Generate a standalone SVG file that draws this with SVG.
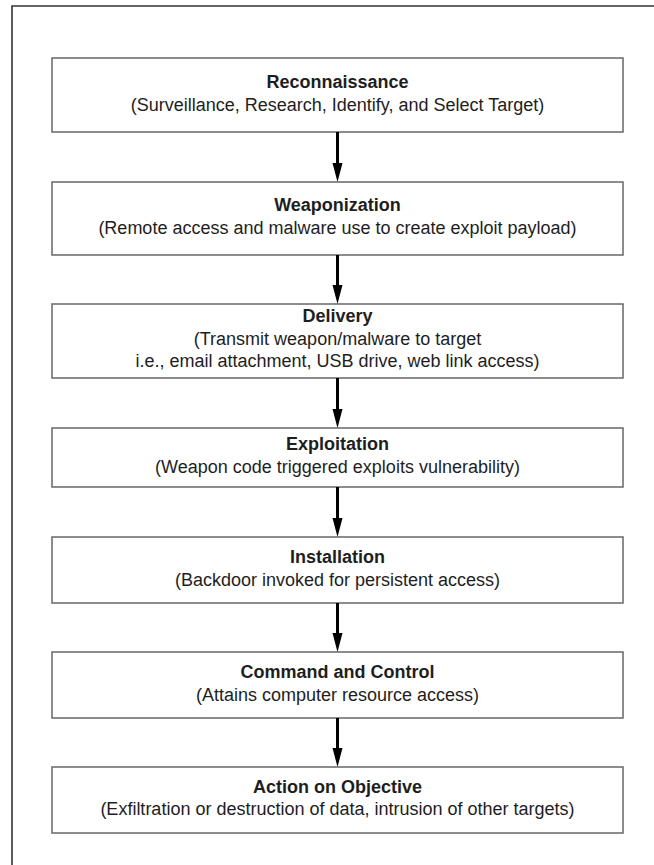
<svg xmlns="http://www.w3.org/2000/svg" width="654" height="865" viewBox="0 0 654 865">
  <defs>
    <style>
      .box { fill: #ffffff; stroke: #707070; stroke-width: 1.6; }
      .title { font-family: "Liberation Sans", Arial, sans-serif; font-size: 18px; font-weight: bold; fill: #1e1e1e; text-anchor: middle; }
      .sub { font-family: "Liberation Sans", Arial, sans-serif; font-size: 18px; fill: #1e1e1e; text-anchor: middle; }
      .link { stroke: #000000; stroke-width: 3; fill: none; }
      .head { fill: #000000; }
    </style>
  </defs>
  <rect width="654" height="865" fill="#ffffff"/>
  <!-- outer frame (top and left edges fall inside the canvas) -->
  <path d="M12,865 V6 H654" fill="none" stroke="#333333" stroke-width="1.6"/>

  <g id="reconnaissance">
    <rect class="box" x="52" y="58" width="571" height="74"/>
    <text class="title" x="337.5" y="88">Reconnaissance</text>
    <text class="sub" x="337.5" y="111">(Surveillance, Research, Identify, and Select Target)</text>
  </g>
  <g id="weaponization">
    <rect class="box" x="52" y="182" width="571" height="73"/>
    <text class="title" x="337.5" y="211">Weaponization</text>
    <text class="sub" x="337.5" y="234">(Remote access and malware use to create exploit payload)</text>
  </g>
  <g id="delivery">
    <rect class="box" x="52" y="304" width="571" height="74"/>
    <text class="title" x="337.5" y="322">Delivery</text>
    <text class="sub" x="337.5" y="345">(Transmit weapon/malware to target</text>
    <text class="sub" x="337.5" y="367">i.e., email attachment, USB drive, web link access)</text>
  </g>
  <g id="exploitation">
    <rect class="box" x="52" y="428" width="571" height="59"/>
    <text class="title" x="337.5" y="450">Exploitation</text>
    <text class="sub" x="337.5" y="473">(Weapon code triggered exploits vulnerability)</text>
  </g>
  <g id="installation">
    <rect class="box" x="52" y="537" width="571" height="66"/>
    <text class="title" x="337.5" y="563">Installation</text>
    <text class="sub" x="337.5" y="586">(Backdoor invoked for persistent access)</text>
  </g>
  <g id="command-and-control">
    <rect class="box" x="52" y="652" width="571" height="66"/>
    <text class="title" x="337.5" y="678">Command and Control</text>
    <text class="sub" x="337.5" y="701">(Attains computer resource access)</text>
  </g>
  <g id="action-on-objective">
    <rect class="box" x="52" y="767" width="571" height="66"/>
    <text class="title" x="337.5" y="793">Action on Objective</text>
    <text class="sub" x="337.5" y="815">(Exfiltration or destruction of data, intrusion of other targets)</text>
  </g>

  <g id="connectors">
    <line class="link" x1="337.5" y1="132" x2="337.5" y2="165"/>
    <line class="link" x1="337.5" y1="255" x2="337.5" y2="287"/>
    <line class="link" x1="337.5" y1="378" x2="337.5" y2="411"/>
    <line class="link" x1="337.5" y1="487" x2="337.5" y2="520"/>
    <line class="link" x1="337.5" y1="603" x2="337.5" y2="635"/>
    <line class="link" x1="337.5" y1="718" x2="337.5" y2="750"/>
    <path class="head" d="M332.5,163 L342.5,163 L337.5,182 Z"/>
    <path class="head" d="M332.5,285 L342.5,285 L337.5,304 Z"/>
    <path class="head" d="M332.5,409 L342.5,409 L337.5,428 Z"/>
    <path class="head" d="M332.5,518 L342.5,518 L337.5,537 Z"/>
    <path class="head" d="M332.5,633 L342.5,633 L337.5,652 Z"/>
    <path class="head" d="M332.5,748 L342.5,748 L337.5,767 Z"/>
  </g>
</svg>
